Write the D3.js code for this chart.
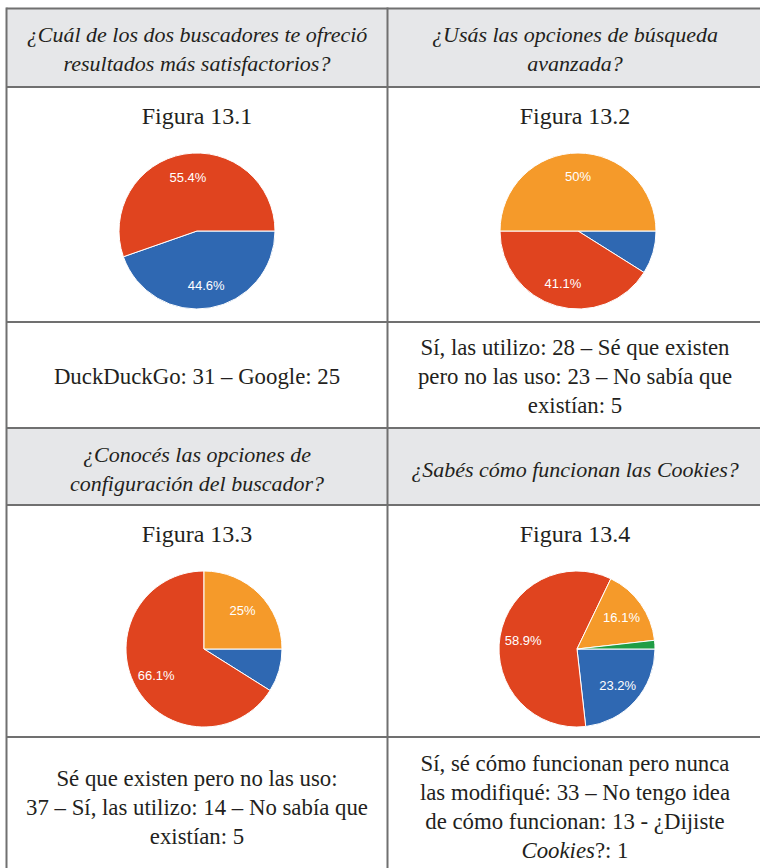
<!DOCTYPE html>
<html>
<head>
<meta charset="utf-8">
<script src="https://cdn.jsdelivr.net/npm/d3@7"></script>
<style>
  html, body { margin: 0; padding: 0; background: #fff; }
  svg { display: block; }
  .serif { font-family: "Liberation Serif", "Times New Roman", serif; }
  .sans { font-family: "Liberation Sans", Arial, sans-serif; }
</style>
</head>
<body>
<svg id="chart" width="760" height="868"></svg>
<script>
// ---------- data ----------
const questions = [
  ["¿Cuál de los dos buscadores te ofreció", "resultados más satisfactorios?"],
  ["¿Usás las opciones de búsqueda", "avanzada?"],
  ["¿Conocés las opciones de", "configuración del buscador?"],
  ["¿Sabés cómo funcionan las Cookies?"]
];
const figureTitles = ["Figura 13.1", "Figura 13.2", "Figura 13.3", "Figura 13.4"];
const captions = [
  [["DuckDuckGo: 31 – Google: 25"]],
  [["Sí, las utilizo: 28 – Sé que existen"], ["pero no las uso: 23 – No sabía que"], ["existían: 5"]],
  [["Sé que existen pero no las uso:"], ["37 – Sí, las utilizo: 14 – No sabía que"], ["existían: 5"]],
  [["Sí, sé cómo funcionan pero nunca"], ["las modifiqué: 33 – No tengo idea"], ["de cómo funcionan: 13 - ¿Dijiste"], ["*Cookies", "?: 1"]]
];
// slice order: blue, red, orange, green
const sliceKeys = ["blue", "red", "orange", "green"];
const pie1 = [25, 31];
const pie2 = [5, 23, 28];
const pie3 = [5, 37, 14];
const pie4 = [13, 33, 9, 1];
const pies = [pie1, pie2, pie3, pie4];
const sliceColors = ["#2f68b2", "#e0441f", "#f59a2a", "#1f9d45"];

// ---------- layout ----------
const svg = d3.select("#chart");
const xLeft = 6.5, xMid = 387.5, xRight = 762;
const rows = [
  {y0: 8.5, y1: 87},
  {y0: 87, y1: 322},
  {y0: 322, y1: 428},
  {y0: 428, y1: 505},
  {y0: 505, y1: 737},
  {y0: 737, y1: 874}
];
const colCenters = [197, 575];

[0, 3].forEach(r => {
  svg.append("rect")
    .attr("x", xLeft).attr("y", rows[r].y0)
    .attr("width", xRight - xLeft).attr("height", rows[r].y1 - rows[r].y0)
    .attr("fill", "#e6e7e9");
});

const gridColor = "#707070";
[8.5, 87, 322, 428, 505, 737].forEach(y => {
  svg.append("line").attr("x1", xLeft).attr("x2", xRight).attr("y1", y).attr("y2", y)
    .attr("stroke", gridColor).attr("stroke-width", 2);
});
[xLeft, xMid].forEach(x => {
  svg.append("line").attr("x1", x).attr("x2", x).attr("y1", 7.5).attr("y2", 868)
    .attr("stroke", gridColor).attr("stroke-width", 2);
});

const headerRow = [0, 0, 3, 3];
const figRow = [1, 1, 4, 4];
const capRow = [2, 2, 5, 5];

questions.forEach((lines, i) => {
  const c = i % 2;
  const r = rows[headerRow[i]];
  const cy = (r.y0 + r.y1) / 2 + (i >= 2 ? 2.5 : 1);
  const lh = 28.5;
  const t = svg.append("text")
    .attr("class", "serif")
    .attr("text-anchor", "middle")
    .attr("font-style", "italic")
    .attr("font-size", 22)
    .attr("fill", "#231f20");
  lines.forEach((ln, k) => {
    t.append("tspan")
      .attr("x", colCenters[c])
      .attr("y", cy + (k - (lines.length - 1) / 2) * lh + 7.5)
      .text(ln);
  });
});

figureTitles.forEach((ft, i) => {
  const c = i % 2;
  const r = rows[figRow[i]];
  svg.append("text")
    .attr("class", "serif")
    .attr("x", colCenters[c]).attr("y", r.y0 + 37)
    .attr("text-anchor", "middle")
    .attr("font-size", 24)
    .attr("fill", "#231f20")
    .text(ft);
});

captions.forEach((lines, i) => {
  const c = i % 2;
  const r = rows[capRow[i]];
  const cy = (r.y0 + r.y1) / 2 + 2;
  const lh = 29;
  const t = svg.append("text")
    .attr("class", "serif")
    .attr("text-anchor", "middle")
    .attr("font-size", 22.8)
    .attr("fill", "#231f20");
  lines.forEach((parts, k) => {
    const y = cy + (k - (lines.length - 1) / 2) * lh + 7;
    parts.forEach((p, j) => {
      const ts = t.append("tspan");
      if (j === 0) ts.attr("x", colCenters[c]).attr("y", y);
      if (p.startsWith("*")) ts.attr("font-style", "italic").text(p.slice(1));
      else ts.text(p);
    });
  });
});

// ---------- pies ----------
const pieCenters = [
  {x: 197, y: 231}, {x: 578, y: 231},
  {x: 204, y: 649}, {x: 577, y: 649}
];
const radius = 78;
const color = d3.scaleOrdinal().domain(sliceKeys).range(sliceColors);
const pieGen = d3.pie().sort(null).value(d => d.v)
  .startAngle(Math.PI / 2).endAngle(Math.PI / 2 + 2 * Math.PI);
const arc = d3.arc().innerRadius(0).outerRadius(radius);
const labelArc = d3.arc().innerRadius(radius * 0.7).outerRadius(radius * 0.7);

pies.forEach((vals, i) => {
  const data = vals.map((v, k) => ({key: sliceKeys[k], v}));
  const total = d3.sum(vals);
  const g = svg.append("g").attr("transform", `translate(${pieCenters[i].x},${pieCenters[i].y})`);
  const arcs = pieGen(data);
  g.selectAll("path").data(arcs).join("path")
    .attr("d", arc)
    .attr("fill", d => color(d.data.key))
    .attr("stroke", "#ffffff")
    .attr("stroke-width", 1);
  g.selectAll("text").data(arcs.filter(d => d.data.v / total > 0.1)).join("text")
    .attr("class", "sans")
    .attr("transform", d => `translate(${labelArc.centroid(d)})`)
    .attr("text-anchor", "middle")
    .attr("dy", "0.36em")
    .attr("font-size", 13)
    .attr("fill", "#ffffff")
    .text(d => (Math.round(d.data.v / total * 1000) / 10) + "%");
});
</script>
</body>
</html>
